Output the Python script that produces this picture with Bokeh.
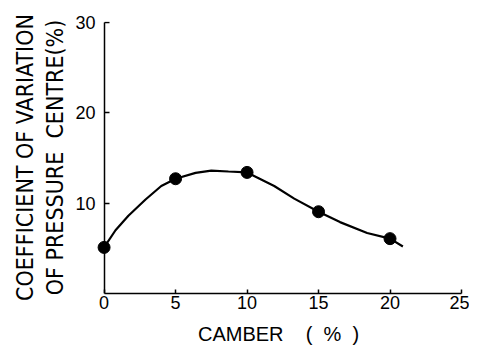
from bokeh.plotting import figure
from bokeh.models import FixedTicker, Range1d, Grid
from bokeh.embed import file_html
from bokeh.resources import INLINE

# measured data points
camber = [0, 5, 10, 15, 20]
cov = [5.1, 12.7, 13.4, 9.05, 6.07]

# fitted curve
curve_x = [0, 0.8, 1.7, 2.9, 4.0, 5.0, 6.4, 7.5, 8.7, 10.0, 11.9, 13.3, 15.0, 16.5, 18.4, 20.0, 20.9]
curve_y = [5.1, 7.0, 8.6, 10.4, 11.9, 12.7, 13.35, 13.6, 13.5, 13.4, 11.9, 10.5, 9.05, 7.9, 6.7, 6.07, 5.2]

x_ticks = [0, 5, 10, 15, 20, 25]
y_ticks = [10, 20, 30]

NB = "\u00a0"

p = figure(width=469, height=347, output_backend="svg", toolbar_location=None,
           x_range=Range1d(-0.6, 25), y_range=Range1d(0, 30.1),
           min_border_left=95, min_border_right=8, min_border_top=21, min_border_bottom=51)
p.outline_line_color = None
p.grid.visible = False
p.background_fill_color = "white"
p.border_fill_color = "white"

p.line(curve_x, curve_y, line_width=2.2, line_color="black")
p.scatter(camber, cov, size=12, fill_color="black", line_color="black")

tick_font = "Liberation Sans"

xa = p.xaxis[0]
xa.ticker = FixedTicker(ticks=x_ticks)
xa.bounds = (0, 25)
xa.minor_tick_line_color = None
xa.major_tick_in = 4
xa.major_tick_out = 0
xa.major_tick_line_width = 1.5
xa.axis_line_width = 1.5
xa.axis_line_color = "black"
xa.major_tick_line_color = "black"
xa.major_label_standoff = 2
xa.major_label_text_font = tick_font
xa.major_label_text_font_size = "18px"
xa.major_label_text_color = "black"
xa.axis_label = "CAMBER" + NB * 4 + "(" + NB * 2 + "%" + NB * 2 + ")"
xa.axis_label_text_font = tick_font
xa.axis_label_text_font_size = "20px"
xa.axis_label_text_font_style = "normal"
xa.axis_label_text_color = "black"
xa.axis_label_text_line_height = 0.75
xa.axis_label_standoff = 11

# left axis at the frame edge: carries tick labels and the title only
ya = p.yaxis[0]
ya.ticker = FixedTicker(ticks=y_ticks)
ya.axis_line_color = None
ya.major_tick_line_color = None
ya.minor_tick_line_color = None
ya.major_tick_in = 0
ya.major_tick_out = 0
ya.major_label_standoff = 0
ya.major_label_text_font = tick_font
ya.major_label_text_font_size = "18px"
ya.major_label_text_color = "black"
ya.axis_label = "COEFFICIENT OF VARIATION\nOF PRESSURE" + NB * 2 + "CENTRE(%)"
ya.axis_label_text_font = "DejaVu Sans Condensed"
ya.axis_label_text_font_size = "23px"
ya.axis_label_text_font_style = "normal"
ya.axis_label_text_color = "black"
ya.axis_label_text_line_height = 1.18
ya.axis_label_standoff = 4

# y axis line at x = 0 and its inward ticks
y_rule = Grid(dimension=0, ticker=FixedTicker(ticks=[0]), grid_line_color="black",
              grid_line_width=1.5, cross_bounds=(0, 30))
p.add_layout(y_rule)
y_stubs = Grid(dimension=1, ticker=FixedTicker(ticks=y_ticks), grid_line_color="black",
               grid_line_width=1.5, cross_bounds=(0, 0.35))
p.add_layout(y_stubs)

open("out.html", "w").write(file_html(p, INLINE))
